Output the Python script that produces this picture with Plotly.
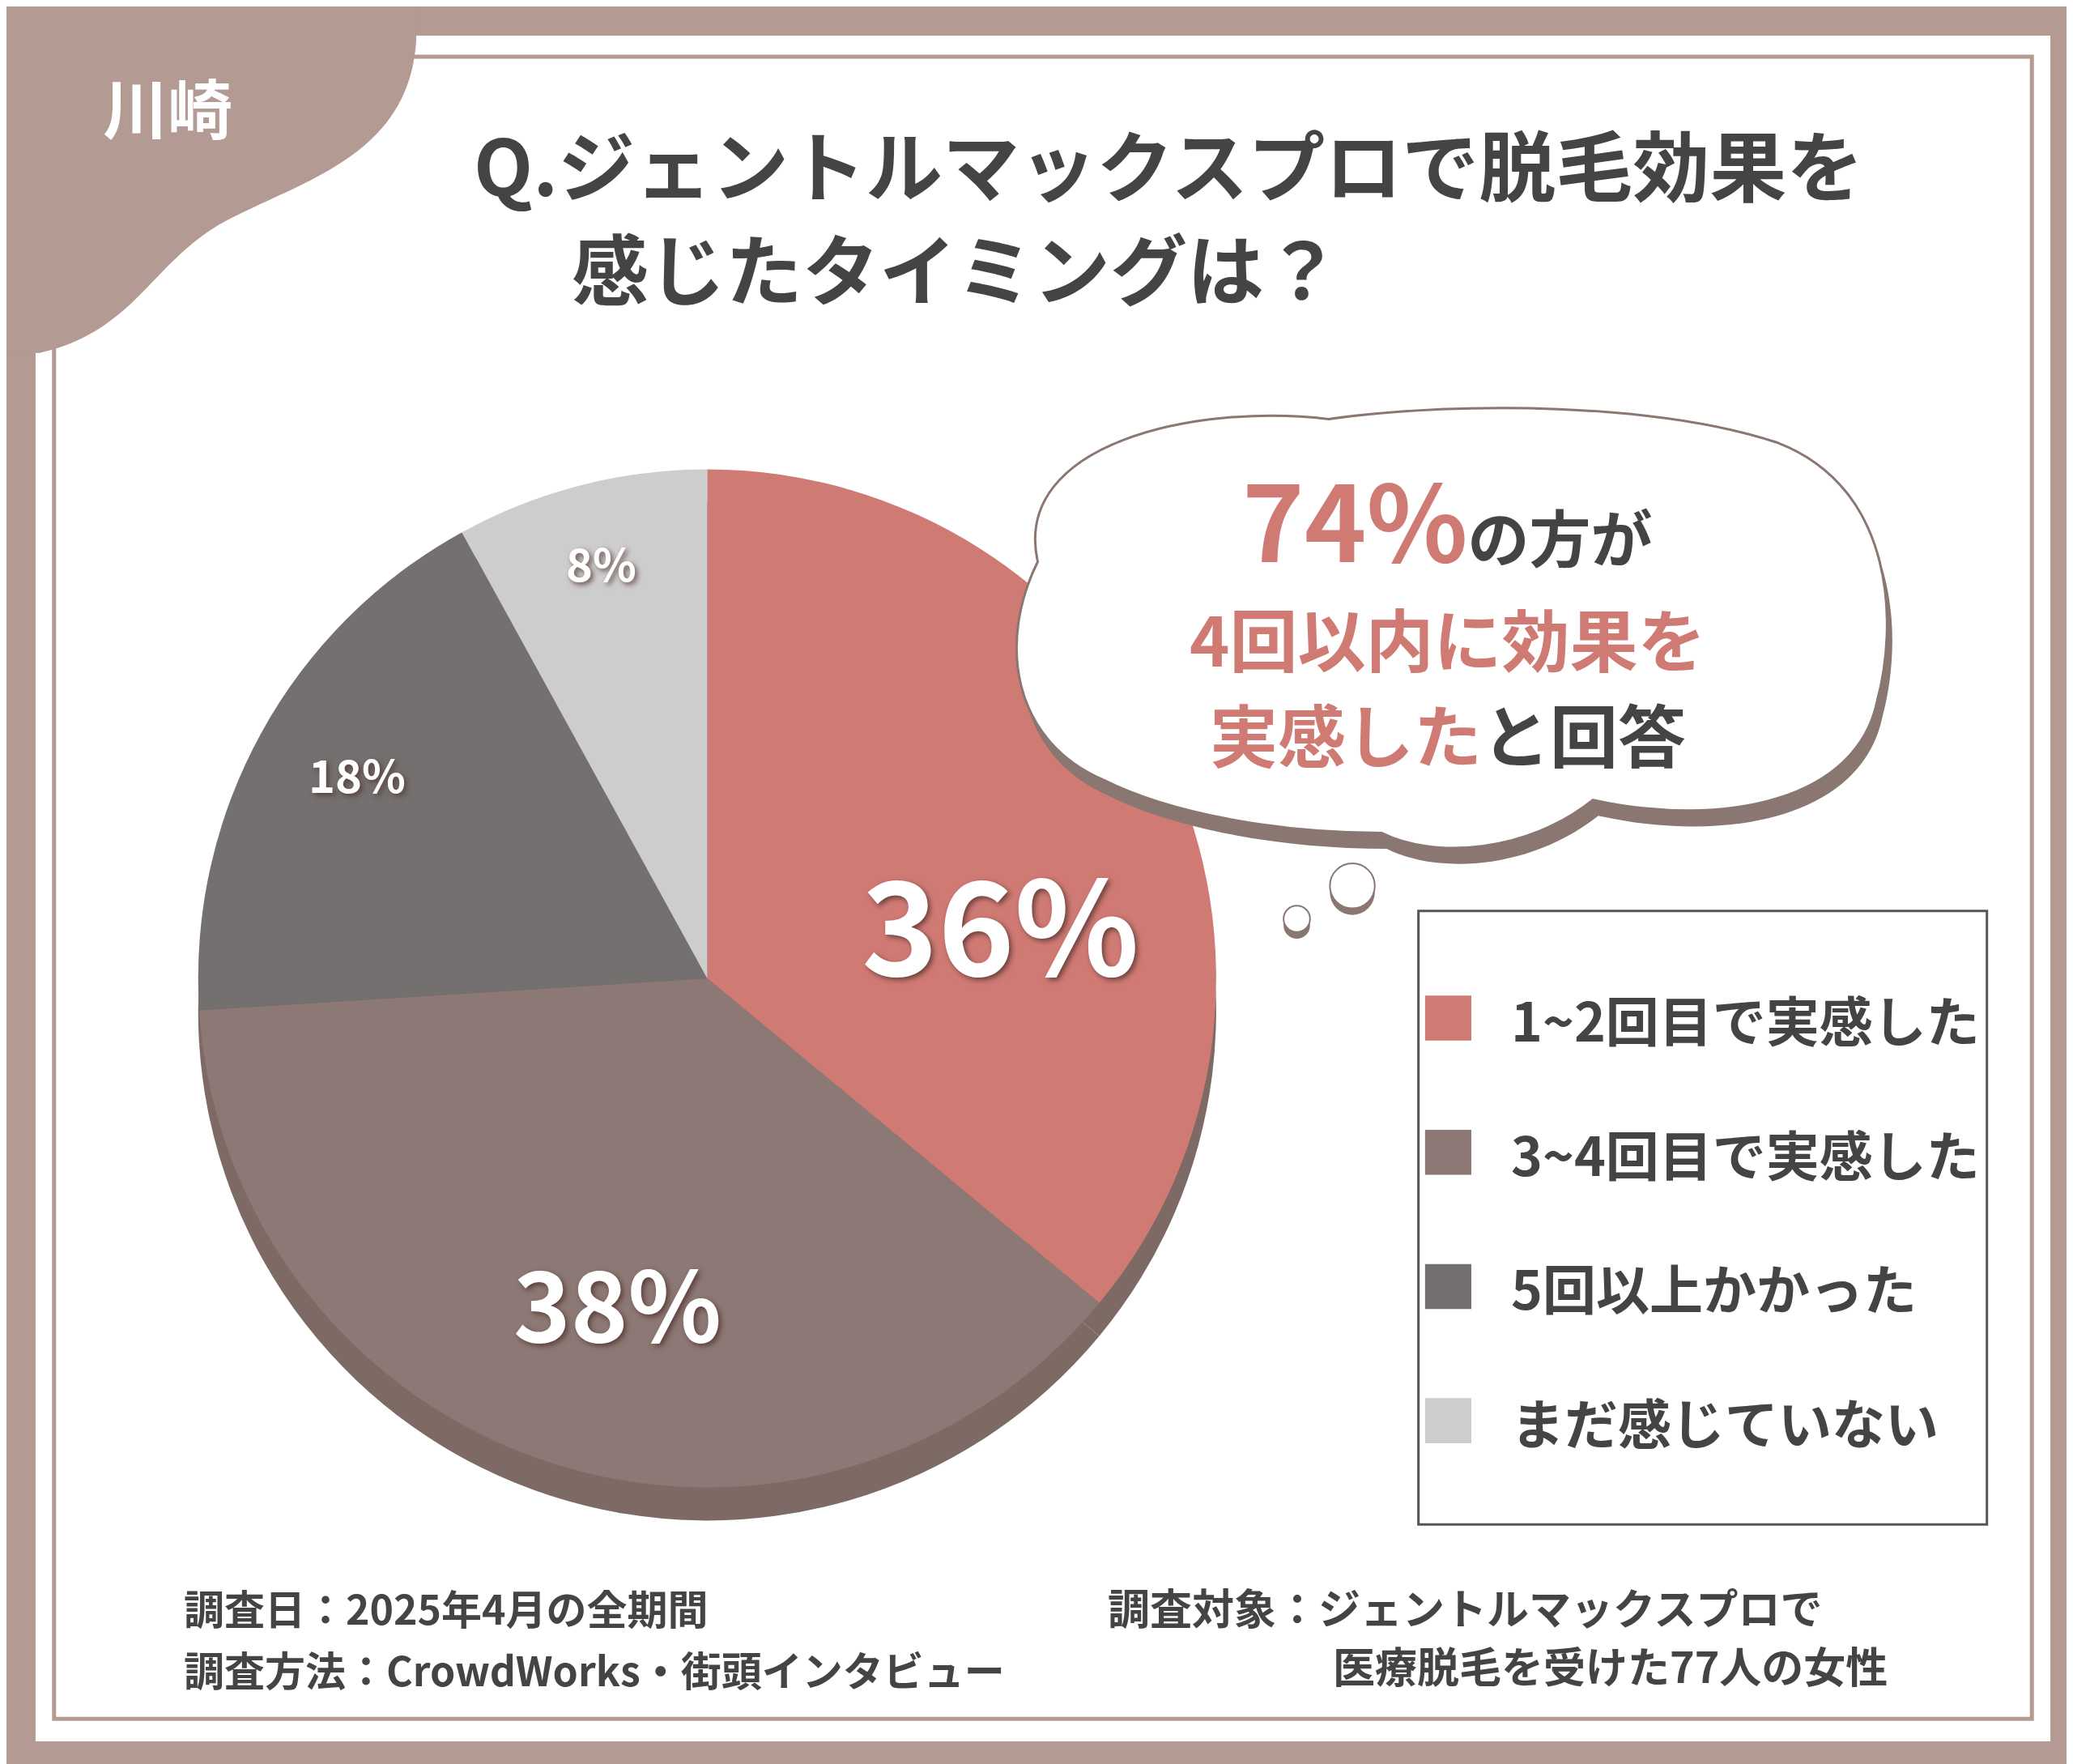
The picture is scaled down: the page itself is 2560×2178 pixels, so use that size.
import plotly.graph_objects as go

labels = ["1~2回目で実感した", "3~4回目で実感した", "5回以上かかった", "まだ感じていない"]
values = [36, 38, 18, 8]
colors = ["#d07a74", "#8c7874", "#747070", "#cecdcd"]

W, H = 2560, 2178
S = W / 1568  # design drawn on a 1568 grid
FONT = "Noto Sans CJK JP"
BROWN = "#b39a92"
DARK = "#444444"


def p(v):
    return v * S


def frac(cx, cy, r):
    return dict(x=[p(cx - r) / W, p(cx + r) / W], y=[1 - p(cy + r) / H, 1 - p(cy - r) / H])


fig = go.Figure()

# shadow layer for 3D look
fig.add_trace(go.Pie(values=values, sort=False, direction="clockwise", rotation=0,
                     marker=dict(colors=["#7d6a64"] * 4, line=dict(width=0)),
                     textinfo="none", hoverinfo="skip", showlegend=False,
                     domain=frac(530, 760, 385)))
fig.add_trace(go.Pie(labels=labels, values=values, sort=False, direction="clockwise", rotation=0,
                     marker=dict(colors=colors, line=dict(width=0)),
                     textinfo="none", showlegend=False,
                     domain=frac(530, 735, 385)))

shapes = []
# outer frame
shapes.append(dict(type="rect", xref="x", yref="y", x0=0, y0=0, x1=W, y1=H, fillcolor=BROWN, line_width=0, layer="below"))
shapes.append(dict(type="rect", xref="x", yref="y", x0=p(22), y0=p(22), x1=p(1546), y1=p(1312), fillcolor="white", line_width=0, layer="below"))
shapes.append(dict(type="rect", xref="x", yref="y", x0=p(36), y0=p(38), x1=p(1532), y1=p(1295), line=dict(color=BROWN, width=5), layer="below"))
# corner tab
tab = (f"M 0,0 L {p(310)},0 L {p(310)},{p(25)} C {p(305)},{p(110)} {p(230)},{p(130)} {p(170)},{p(160)} "
       f"C {p(110)},{p(190)} {p(100)},{p(245)} {p(25)},{p(262)} L 0,{p(262)} Z")
shapes.append(dict(type="path", xref="x", yref="y", path=tab, fillcolor=BROWN, line_width=0))


def cloud(dx, dy):
    pts = [(780, 420), (760, 330), (900, 300), (1000, 312), (1100, 298), (1250, 300), (1340, 330),
           (1430, 365), (1430, 470), (1415, 525), (1400, 600), (1300, 622), (1200, 600),
           (1150, 640), (1080, 645), (1040, 625), (960, 625), (880, 610), (830, 585),
           (760, 555), (750, 480), (780, 420)]
    pts = [(p(x + dx), p(y + dy)) for x, y in pts]
    d = f"M {pts[0][0]},{pts[0][1]}"
    for i in range(1, len(pts), 3):
        a, b, c = pts[i], pts[i + 1], pts[i + 2]
        d += f" C {a[0]},{a[1]} {b[0]},{b[1]} {c[0]},{c[1]}"
    return d + " Z"


shapes.append(dict(type="path", xref="x", yref="y", path=cloud(4, 12), fillcolor="#8a7772", line_width=0))
shapes.append(dict(type="path", xref="x", yref="y", path=cloud(0, 0), fillcolor="white", line=dict(color="#8a7772", width=3)))
for cx, cy, r in [(1018, 665, 17), (976, 690, 10)]:
    shapes.append(dict(type="circle", xref="x", yref="y", x0=p(cx - r), y0=p(cy - r + 5), x1=p(cx + r), y1=p(cy + r + 5), fillcolor="#8a7772", line_width=0))
    shapes.append(dict(type="circle", xref="x", yref="y", x0=p(cx - r), y0=p(cy - r), x1=p(cx + r), y1=p(cy + r), fillcolor="white", line=dict(color="#8a7772", width=2)))

# legend box
shapes.append(dict(type="rect", xref="x", yref="y", x0=p(1068), y0=p(684), x1=p(1498), y1=p(1148), fillcolor="white", line=dict(color="#555555", width=3)))

ann = []


def text(x, y, t, size, color=DARK, anchor="left", shadow=None):
    f = dict(family=FONT, size=size, color=color, weight="bold")
    if shadow:
        f["shadow"] = shadow
    ann.append(dict(x=p(x), y=p(y), xref="x", yref="y", text=t, showarrow=False, xanchor=anchor, yanchor="middle", font=f))


text(122, 75, "川崎", 80, "white", "center")
text(352, 118, "Q.ジェントルマックスプロで脱毛効果を", 95)
text(426, 196, "感じたタイミングは？", 95)

sh = "3px 3px 6px rgba(80,50,45,0.8)"
pie_pos = [(752, 690, 160), (462, 978, 120), (265, 580, 56), (450, 420, 56)]
for v, (x, y, sz) in zip(values, pie_pos):
    text(x, y, f"{v}%", sz, "white", "center", sh)

sal = colors[0]
text(1090, 385, f"<span style='font-size:130px;color:{sal}'>74%</span><span style='font-size:76px'>の方が</span>", 76, DARK, "center")
text(1090, 477, "4回以内に効果を", 84, sal, "center")
text(1090, 549, f"<span style='color:{sal}'>実感した</span>と回答", 84, DARK, "center")

for i, (lab, c) in enumerate(zip(labels, colors)):
    y = 765 + i * 101.5
    shapes.append(dict(type="rect", xref="x", yref="y", x0=p(1073), y0=p(y - 17), x1=p(1108), y1=p(y + 17), fillcolor=c, line_width=0))
    text(1137, y, lab, 66)

text(133, 1210, "調査日：2025年4月の全期間", 50)
text(133, 1257, "調査方法：CrowdWorks・街頭インタビュー", 50)
text(832, 1210, "調査対象：ジェントルマックスプロで", 52)
text(1002, 1254, "医療脱毛を受けた77人の女性", 52)

fig.update_layout(
    width=W, height=H, margin=dict(l=0, r=0, t=0, b=0),
    paper_bgcolor=BROWN, plot_bgcolor="rgba(0,0,0,0)",
    xaxis=dict(range=[0, W], visible=False, fixedrange=True),
    yaxis=dict(range=[H, 0], visible=False, fixedrange=True),
    shapes=shapes, annotations=ann, showlegend=False,
)
fig.write_html("out.html")
